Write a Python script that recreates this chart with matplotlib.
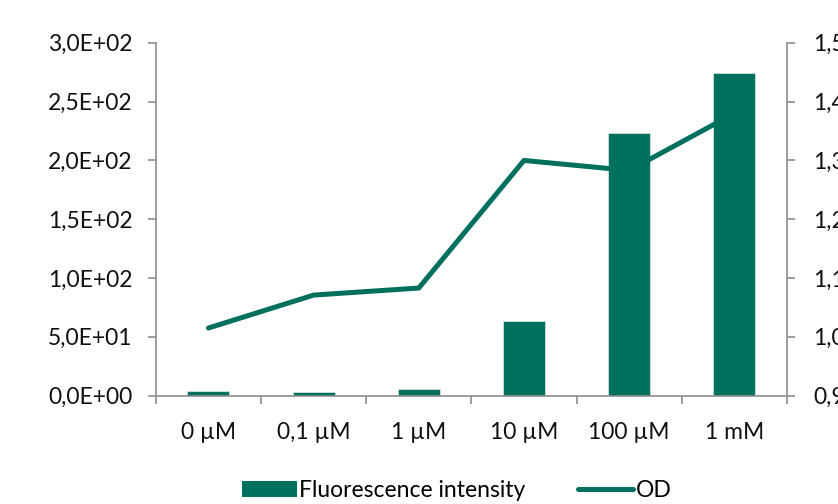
import numpy as np
import matplotlib
matplotlib.use("Agg")
import matplotlib.pyplot as plt
from matplotlib.ticker import FuncFormatter, MultipleLocator
from matplotlib.lines import Line2D
from matplotlib.patches import Patch

categories = ["0 µM", "0,1 µM", "1 µM", "10 µM", "100 µM", "1 mM"]
fluorescence = [3.7, 2.8, 5.4, 63.5, 223.5, 274.5]
od = [1.015, 1.071, 1.083, 1.300, 1.283, 1.380]

teal = "#00705E"
grey = "#8C8C8C"

plt.rcParams["font.family"] = ["Lato", "DejaVu Sans"]
plt.rcParams["font.size"] = 16.5

fig = plt.figure(figsize=(8.38, 5.04), dpi=100)
ax = fig.add_axes([0.186, 0.215, 0.753, 0.700])
ax2 = ax.twinx()

x = np.arange(len(categories))
ax.bar(x, fluorescence, width=0.4, color=teal, edgecolor="#cfe3de", linewidth=0.6, zorder=2)
ax2.plot(x, od, color=teal, linewidth=3.6, solid_capstyle="round", zorder=3)

ax.set_xlim(-0.5, len(categories) - 0.5)
ax.set_ylim(0, 300)
ax2.set_ylim(0.9, 1.5)
ax.yaxis.set_major_locator(MultipleLocator(50))
ax2.yaxis.set_major_locator(MultipleLocator(0.1))
ax.yaxis.set_major_formatter(FuncFormatter(lambda v, p: f"{v:.1E}".replace(".", ",")))
ax2.yaxis.set_major_formatter(FuncFormatter(lambda v, p: f"{v:.1f}".replace(".", ",")))

# category labels centred, ticks on the boundaries between groups
ax.set_xticks(x)
ax.set_xticklabels(categories)
ax.set_xticks(np.arange(-0.5, len(categories)), minor=True)
ax.tick_params(axis="x", which="major", length=0, pad=19, colors="#111111")
ax.tick_params(axis="x", which="minor", length=6, width=1.2, color=grey)
ax.tick_params(axis="y", length=6, width=1.2, color=grey, pad=11, labelcolor="#111111")
ax2.tick_params(axis="y", length=6, width=1.2, color=grey, pad=13, labelcolor="#111111")

for a in (ax, ax2):
    a.spines["top"].set_visible(False)
    for side in ("left", "right", "bottom"):
        a.spines[side].set_color(grey)
        a.spines[side].set_linewidth(1.2)
ax2.spines["left"].set_visible(False)
ax2.spines["bottom"].set_visible(False)
ax.spines["right"].set_visible(False)

handles = [Patch(facecolor=teal, edgecolor="none"),
           Line2D([0], [0], color=teal, linewidth=3.6, solid_capstyle="round")]
fig.legend(handles, ["Fluorescence intensity", "OD"], loc="lower center",
           bbox_to_anchor=(0.545, -0.035), ncol=2, frameon=False,
           handlelength=2.4, handleheight=0.75, handletextpad=0.1, columnspacing=2.3)

fig.savefig("out.png", dpi=100)
